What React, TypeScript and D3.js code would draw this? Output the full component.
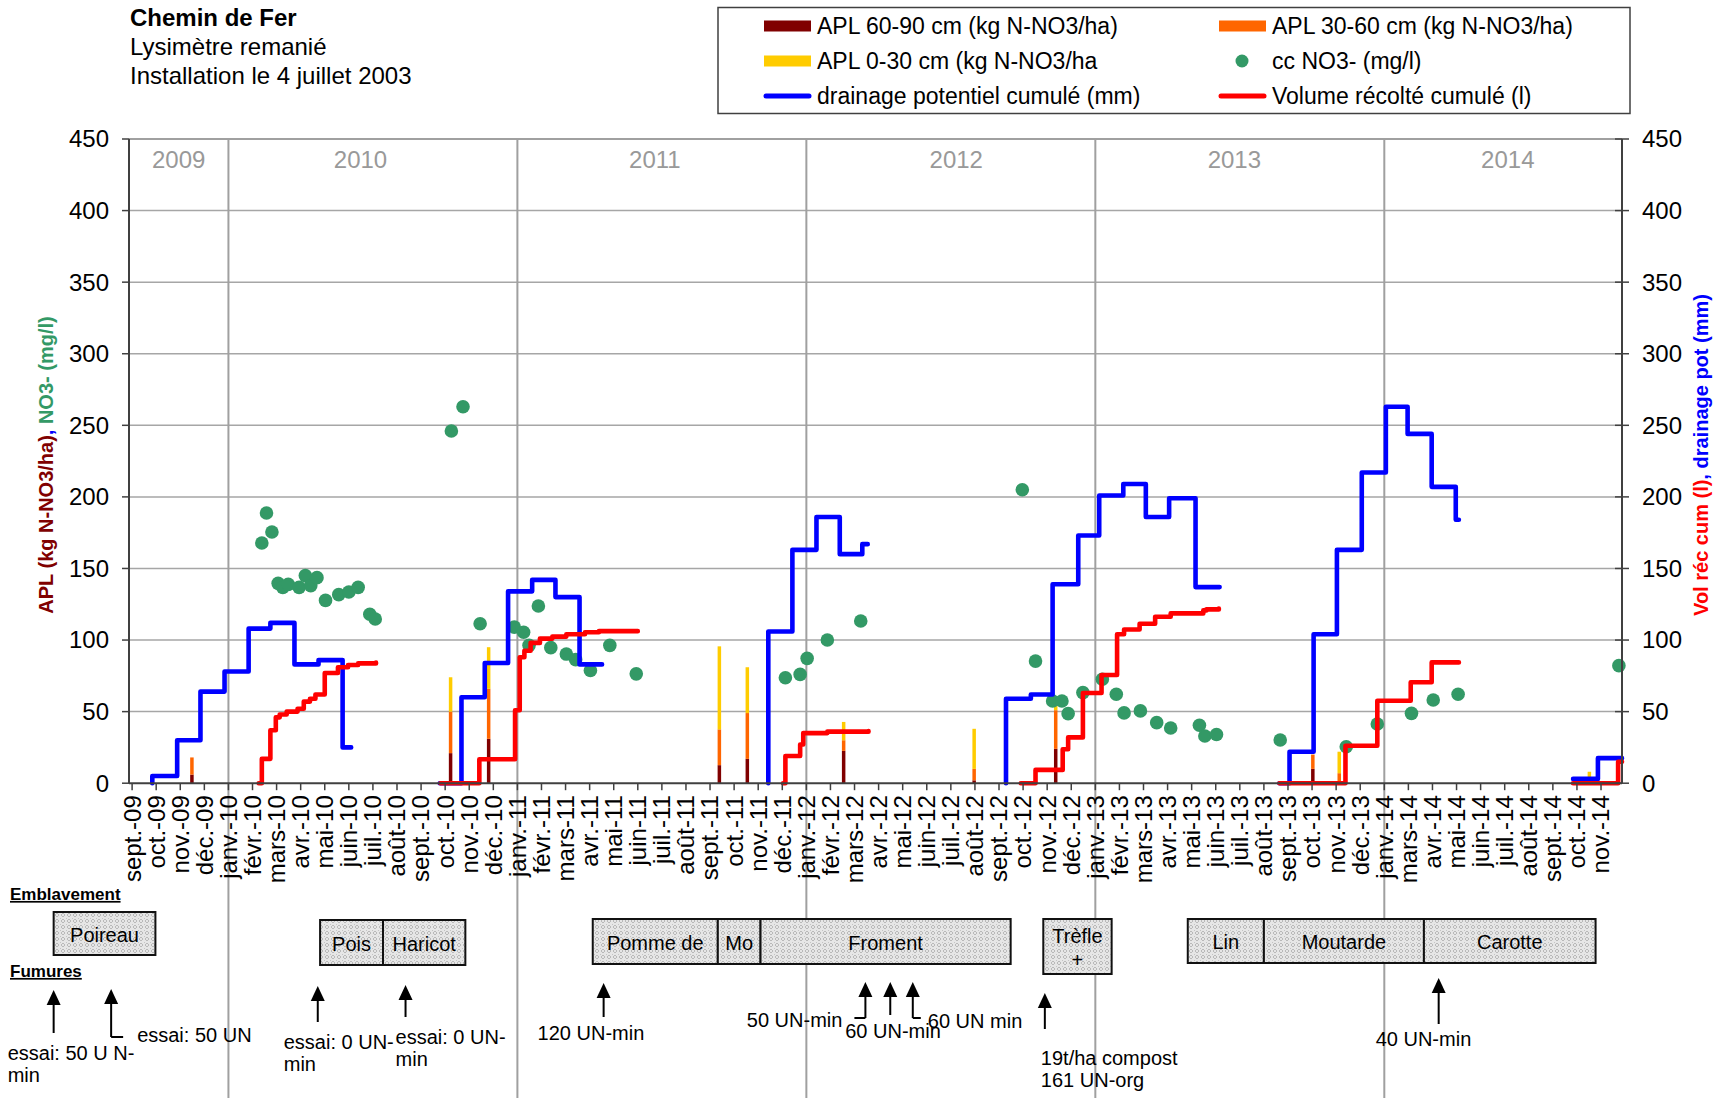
import React from 'react'
import * as d3 from 'd3'

// x axis labels, one every 31 days from 1 Sept 2009 (Excel date axis)
const monthLabels = [
  'sept.-09', 'oct.-09', 'nov.-09', 'déc.-09',
  'janv.-10', 'févr.-10', 'mars-10', 'avr.-10', 'mai-10', 'juin-10', 'juil.-10', 'août-10', 'sept.-10', 'oct.-10', 'nov.-10', 'déc.-10',
  'janv.-11', 'févr.-11', 'mars-11', 'avr.-11', 'mai-11', 'juin-11', 'juil.-11', 'août-11', 'sept.-11', 'oct.-11', 'nov.-11', 'déc.-11',
  'janv.-12', 'févr.-12', 'mars-12', 'avr.-12', 'mai-12', 'juin-12', 'juil.-12', 'août-12', 'sept.-12', 'oct.-12', 'nov.-12', 'déc.-12',
  'janv.-13', 'févr.-13', 'mars-13', 'avr.-13', 'mai-13', 'juin-13', 'juil.-13', 'août-13', 'sept.-13', 'oct.-13', 'nov.-13', 'déc.-13',
  'janv.-14', 'mars-14', 'avr.-14', 'mai-14', 'juin-14', 'juil.-14', 'août-14', 'sept.-14', 'oct.-14', 'nov.-14'
]
const yTicks = [0, 50, 100, 150, 200, 250, 300, 350, 400, 450]
const years = ['2009', '2010', '2011', '2012', '2013', '2014']
const yearLabelDates = ['2009-10-31', '2010-06-22', '2011-07-06', '2012-07-28', '2013-07-21', '2014-07-08']

// drainage potentiel cumulé (mm), one array per drainage season
const drainage1 = [['2009-09-27', 0], ['2009-09-27', 5], ['2009-10-29', 30], ['2009-11-28', 64], ['2009-12-29', 78], ['2010-01-29', 108], ['2010-02-26', 112], ['2010-03-29', 83], ['2010-04-29', 86], ['2010-05-30', 25], ['2010-06-10', 25]]
const drainage2 = [['2010-10-02', 0], ['2010-10-30', 60], ['2010-11-29', 84], ['2010-12-29', 134], ['2011-01-29', 142], ['2011-02-28', 130], ['2011-03-31', 83], ['2011-04-29', 83]]
const drainage3 = [['2011-11-29', 0], ['2011-11-29', 106], ['2011-12-30', 163], ['2012-01-30', 186], ['2012-02-29', 160], ['2012-03-29', 167], ['2012-04-05', 167]]
const drainage4 = [['2012-09-30', 0], ['2012-09-30', 59], ['2012-11-01', 62], ['2012-11-29', 139], ['2013-01-01', 173], ['2013-01-28', 201], ['2013-02-28', 209], ['2013-03-29', 186], ['2013-04-28', 199], ['2013-06-01', 137], ['2013-07-02', 137]]
const drainage5 = [['2013-09-17', 0], ['2013-09-30', 22], ['2013-10-31', 104], ['2013-11-30', 163], ['2014-01-01', 217], ['2014-02-01', 263], ['2014-03-01', 244], ['2014-04-01', 207], ['2014-05-02', 184], ['2014-05-06', 184]]
const drainage6 = [['2014-09-30', 3], ['2014-11-01', 17.5], ['2014-12-02', 17.5]]

// volume récolté cumulé (l)
const collected1 = [['2010-02-11', 0], ['2010-02-15', 17], ['2010-02-26', 37], ['2010-03-05', 46], ['2010-03-10', 48], ['2010-03-19', 50], ['2010-04-02', 52], ['2010-04-10', 57], ['2010-04-18', 59], ['2010-04-25', 62], ['2010-05-07', 77], ['2010-05-24', 81], ['2010-06-06', 82.6], ['2010-06-19', 83.7], ['2010-07-12', 84.2]]
const collected2 = [['2010-10-03', 0], ['2010-11-22', 16.7], ['2011-01-07', 51], ['2011-01-13', 88], ['2011-01-19', 92.5], ['2011-01-27', 98], ['2011-02-08', 101], ['2011-02-24', 102.4], ['2011-03-14', 104], ['2011-04-07', 105.4], ['2011-04-25', 106.2], ['2011-06-14', 106.2]]
const collected3 = [['2011-12-18', 0], ['2011-12-21', 19], ['2012-01-09', 27], ['2012-01-13', 35], ['2012-02-13', 36], ['2012-04-06', 36.5]]
const collected4 = [['2012-10-19', 0], ['2012-11-07', 9.3], ['2012-12-12', 23.7], ['2012-12-19', 32], ['2013-01-07', 63], ['2013-01-31', 75.6], ['2013-02-20', 104], ['2013-03-01', 107.4], ['2013-03-21', 111.4], ['2013-04-10', 116.3], ['2013-04-30', 118.6], ['2013-06-11', 120.7], ['2013-06-15', 121.4], ['2013-07-01', 122]]
const collected5 = [['2013-09-17', 0], ['2013-12-11', 26.2], ['2014-01-21', 57.6], ['2014-03-05', 70.5], ['2014-04-01', 84.4], ['2014-05-06', 84.5]]
const collected6 = [['2014-09-30', 0], ['2014-11-27', 15], ['2014-12-02', 15]]

// cc NO3- (mg/l)
const nitrate = [
  ['2010-02-15', 167.8], ['2010-02-21', 188.7], ['2010-02-28', 175.5], ['2010-03-08', 139.6], ['2010-03-14', 136.8], ['2010-03-21', 138.9],
  ['2010-04-04', 136.8], ['2010-04-12', 145], ['2010-04-19', 138], ['2010-04-27', 143.6], ['2010-05-08', 127.7], ['2010-05-25', 131.7],
  ['2010-06-07', 133.6], ['2010-06-19', 136.8], ['2010-07-04', 118], ['2010-07-11', 114.7],
  ['2010-10-17', 246], ['2010-11-01', 263], ['2010-11-23', 111.4], ['2011-01-06', 109], ['2011-01-18', 105.4], ['2011-01-25', 96.3],
  ['2011-02-06', 123.8], ['2011-02-22', 94.7], ['2011-03-14', 90.2], ['2011-03-26', 86.3], ['2011-04-14', 78.7], ['2011-05-09', 96.3], ['2011-06-12', 76.4],
  ['2011-12-21', 73.7], ['2012-01-09', 76], ['2012-01-18', 87.2], ['2012-02-13', 100], ['2012-03-27', 113.3],
  ['2012-10-21', 205], ['2012-11-07', 85.3], ['2012-11-29', 57.4], ['2012-12-11', 57.4], ['2012-12-19', 48.6], ['2013-01-07', 63.3],
  ['2013-02-01', 72.6], ['2013-02-19', 62.1], ['2013-03-01', 49.1], ['2013-03-22', 50.5], ['2013-04-12', 42.3], ['2013-04-30', 38.6],
  ['2013-06-06', 40.5], ['2013-06-13', 33], ['2013-06-28', 34],
  ['2013-09-18', 30.2], ['2013-12-12', 25.5], ['2014-01-21', 41.4], ['2014-03-06', 48.8], ['2014-04-03', 58.1], ['2014-05-05', 62.1],
  ['2014-11-28', 82.1]
]

// APL sampling dates and layers (kg N-NO3/ha)
const aplDates = ['2009-11-17', '2010-10-16', '2010-12-04', '2011-09-27', '2011-11-02', '2012-03-05', '2012-08-20', '2012-12-03', '2013-10-30', '2013-12-03', '2014-10-21']
const apl6090 = [6, 21, 31, 12.6, 17, 22.6, 2, 24, 10, 0, 0]
const apl3060 = [12, 29, 35, 25, 32, 7.4, 8, 27, 10, 7, 0]
const apl030 = [0, 24, 29, 58, 32, 12.8, 28, 6, 0, 15, 8]

// crops (Emblavement) and fertilisation (Fumures) under the chart
const crops = [
  { label: ['Poireau'], from: '2009-05-23', to: '2009-10-01', top: 912, bottom: 955 },
  { label: ['Pois'], from: '2010-05-01', to: '2010-07-21', top: 920, bottom: 965 },
  { label: ['Haricot'], from: '2010-07-21', to: '2010-11-04', top: 920, bottom: 965 },
  { label: ['Pomme de'], from: '2011-04-17', to: '2011-09-25', top: 919, bottom: 964 },
  { label: ['Mo'], from: '2011-09-25', to: '2011-11-19', top: 919, bottom: 964 },
  { label: ['Froment'], from: '2011-11-19', to: '2012-10-06', top: 919, bottom: 964 },
  { label: ['Trèfle', '+'], from: '2012-11-17', to: '2013-02-13', top: 919, bottom: 974 },
  { label: ['Lin'], from: '2013-05-22', to: '2013-08-28', top: 919, bottom: 963 },
  { label: ['Moutarde'], from: '2013-08-28', to: '2014-03-22', top: 919, bottom: 963 },
  { label: ['Carotte'], from: '2014-03-22', to: '2014-10-29', top: 919, bottom: 963 }
]
const fumures = [
  { date: '2009-05-23', top: 990, bottom: 1033, bend: 0, text: ['essai: 50 U N-', 'min'], dx: -46, ty: 1053, anchor: 'start' },
  { date: '2009-08-05', top: 989, bottom: 1037, bend: 12, text: ['essai: 50 UN'], dx: 26, ty: 1035, anchor: 'start' },
  { date: '2010-04-28', top: 986, bottom: 1022, bend: 0, text: ['essai: 0 UN-', 'min'], dx: -34, ty: 1042, anchor: 'start' },
  { date: '2010-08-19', top: 985, bottom: 1017, bend: 0, text: ['essai: 0 UN-', 'min'], dx: -10, ty: 1037, anchor: 'start' },
  { date: '2011-05-01', top: 983, bottom: 1017, bend: 0, text: ['120 UN-min'], dx: -66, ty: 1033, anchor: 'start' },
  { date: '2012-04-02', top: 982, bottom: 1018, bend: -11, text: ['50 UN-min'], dx: -23, ty: 1020, anchor: 'end' },
  { date: '2012-05-04', top: 982, bottom: 1015, bend: 0, text: ['60 UN-min'], dx: -45, ty: 1031, anchor: 'start' },
  { date: '2012-06-02', top: 982, bottom: 1018, bend: 8, text: ['60 UN min'], dx: 15, ty: 1021, anchor: 'start' },
  { date: '2012-11-19', top: 993, bottom: 1029, bend: 0, text: ['19t/ha compost', '161 UN-org'], dx: -4, ty: 1058, anchor: 'start' },
  { date: '2014-04-10', top: 978, bottom: 1024, bend: 0, text: ['40 UN-min'], dx: -63, ty: 1039, anchor: 'start' }
]

const parse = d3.timeParse('%Y-%m-%d')
const toPoints = (arr: any[]) => arr.map(d => [parse(d[0]) as Date, d[1] as number] as [Date, number])

const colors = {
  apl6090: '#800000',
  apl3060: '#FF6600',
  apl030: '#FFCC00',
  no3: '#339966',
  drainage: '#0000FF',
  collected: '#FF0000'
}

export default function App() {
  const width = 1715,
    height = 1098

  const x = d3
    .scaleTime()
    .domain([new Date(2009, 7, 28), new Date(2014, 11, 2)])
    .range([129, 1622])
  const y = d3.scaleLinear().domain([0, 450]).range([783.2, 139])
  const [x0, x1] = x.range()
  const [yBottom, yTop] = y.range()

  const tickDates = monthLabels.map((_, i) => d3.timeDay.offset(parse('2009-09-01') as Date, 31 * i))
  const janTicks = tickDates.filter((_, i) => monthLabels[i].startsWith('janv'))

  const line = d3
    .line<[Date, number]>()
    .x(d => x(d[0]))
    .y(d => y(d[1]))
    .curve(d3.curveStepAfter)

  const drainageSeasons = [drainage1, drainage2, drainage3, drainage4, drainage5, drainage6].map(toPoints)
  const collectedSeasons = [collected1, collected2, collected3, collected4, collected5, collected6].map(toPoints)
  const no3Points = toPoints(nitrate)

  // stacked APL columns: 60-90 at the bottom, then 30-60, then 0-30
  const aplRows = aplDates.map((d, i) => ({ date: parse(d) as Date, apl6090: apl6090[i], apl3060: apl3060[i], apl030: apl030[i] }))
  const stacked = d3.stack<any>().keys(['apl6090', 'apl3060', 'apl030'])(aplRows)
  const barW = 3.5

  const font = "'Liberation Sans', Arial, Helvetica, sans-serif"
  const grid = '#a6a6a6'
  const axis = '#404040'

  const legendItems = [
    { kind: 'rect', color: colors.apl6090, text: 'APL 60-90 cm (kg N-NO3/ha)', col: 0, row: 0 },
    { kind: 'rect', color: colors.apl3060, text: 'APL 30-60 cm (kg N-NO3/ha)', col: 1, row: 0 },
    { kind: 'rect', color: colors.apl030, text: 'APL 0-30 cm (kg N-NO3/ha', col: 0, row: 1 },
    { kind: 'dot', color: colors.no3, text: 'cc NO3- (mg/l)', col: 1, row: 1 },
    { kind: 'line', color: colors.drainage, text: 'drainage potentiel cumulé (mm)', col: 0, row: 2 },
    { kind: 'line', color: colors.collected, text: 'Volume récolté cumulé (l)', col: 1, row: 2 }
  ]
  const legendCols = [764, 1219]
  const legendRows = [26, 61, 96]

  return (
    <svg
      width={width}
      height={height}
      style={{ position: 'absolute', left: 0, top: 0, background: '#fff' }}
      fontFamily={font}
    >
      <defs>
        {/* small diamond lattice, like the Excel pattern fill of the crop boxes */}
        <pattern id="crop-fill" width="6" height="6" patternUnits="userSpaceOnUse">
          <rect width="6" height="6" fill="#e6e6e6" />
          <path d="M3,1 L5,3 L3,5 L1,3 Z" fill="none" stroke="#b4b4b4" strokeWidth={0.9} />
          <rect x="0" y="0" width="1" height="1" fill="#c4c4c4" />
        </pattern>
      </defs>

      {/* title */}
      <text x={130} y={26} fontSize={24} fontWeight="bold">Chemin de Fer</text>
      <text x={130} y={55} fontSize={24}>Lysimètre remanié</text>
      <text x={130} y={83.5} fontSize={24}>Installation le 4 juillet 2003</text>

      {/* legend */}
      <rect x={718} y={7.5} width={912} height={106} fill="#fff" stroke={axis} strokeWidth={1.5} />
      {legendItems.map((d, i) => {
        const lx = legendCols[d.col],
          ly = legendRows[d.row]
        return (
          <g key={i}>
            {d.kind === 'rect' && <rect x={lx} y={ly - 5.5} width={47} height={11} fill={d.color} />}
            {d.kind === 'line' && (
              <line x1={lx + 2} x2={lx + 45} y1={ly} y2={ly} stroke={d.color} strokeWidth={5} strokeLinecap="round" />
            )}
            {d.kind === 'dot' && <circle cx={lx + 23} cy={ly} r={6.5} fill={d.color} />}
            <text x={lx + 53} y={ly} dy="0.35em" fontSize={23}>{d.text}</text>
          </g>
        )
      })}

      {/* horizontal gridlines */}
      {yTicks.slice(1).map(t => (
        <line key={t} x1={x0} x2={x1} y1={y(t)} y2={y(t)} stroke={t === 450 ? '#808080' : grid} strokeWidth={1.5} />
      ))}

      {/* year separators, run down through the crop section */}
      {janTicks.map((d, i) => (
        <line key={i} x1={x(d)} x2={x(d)} y1={yTop} y2={height} stroke="#a0a0a0" strokeWidth={2} />
      ))}
      {years.map((yr, i) => (
        <text key={yr} x={x(parse(yearLabelDates[i]) as Date)} y={160} dy="0.35em" fontSize={24} fill="#999" textAnchor="middle">
          {yr}
        </text>
      ))}

      {/* APL columns */}
      {stacked.map(layer => (
        <g key={layer.key} fill={(colors as any)[layer.key]}>
          {layer.map((s, i) => (
            <rect
              key={i}
              x={x(s.data.date) - barW / 2}
              y={y(s[1])}
              width={barW}
              height={Math.max(0, y(s[0]) - y(s[1]))}
            />
          ))}
        </g>
      ))}

      {/* NO3- concentration */}
      {no3Points.map((d, i) => (
        <circle key={i} cx={x(d[0])} cy={y(d[1])} r={6.8} fill={colors.no3} />
      ))}

      {/* cumulative drainage and collected volume */}
      {drainageSeasons.map((s, i) => (
        <path key={'d' + i} d={line(s) || ''} fill="none" stroke={colors.drainage} strokeWidth={4.6} strokeLinejoin="round" strokeLinecap="round" />
      ))}
      {collectedSeasons.map((s, i) => (
        <path key={'c' + i} d={line(s) || ''} fill="none" stroke={colors.collected} strokeWidth={4.6} strokeLinejoin="round" strokeLinecap="round" />
      ))}

      {/* axes */}
      <line x1={x0} x2={x0} y1={yTop} y2={yBottom} stroke={axis} strokeWidth={2} />
      <line x1={x1} x2={x1} y1={yTop} y2={yBottom} stroke={axis} strokeWidth={2} />
      <line x1={x0} x2={x1} y1={yBottom} y2={yBottom} stroke={axis} strokeWidth={2} />
      {yTicks.map(t => (
        <g key={t}>
          <line x1={x0 - 7} x2={x0} y1={y(t)} y2={y(t)} stroke={axis} strokeWidth={1.5} />
          <text x={x0 - 20} y={y(t)} dy="0.35em" fontSize={24} textAnchor="end">{t}</text>
          <line x1={x1 - 7} x2={x1 + 7} y1={y(t)} y2={y(t)} stroke={axis} strokeWidth={1.5} />
          <text x={x1 + 20} y={y(t)} dy="0.35em" fontSize={24}>{t}</text>
        </g>
      ))}
      {tickDates.map((d, i) => (
        <g key={i}>
          <line x1={x(d)} x2={x(d)} y1={yBottom} y2={yBottom + 7} stroke={axis} strokeWidth={1.5} />
          <text
            transform={`translate(${x(d)},${yBottom + 12}) rotate(-90)`}
            dy="0.35em"
            fontSize={24}
            textAnchor="end"
          >
            {monthLabels[i]}
          </text>
        </g>
      ))}

      {/* axis titles */}
      <text transform="translate(46,465) rotate(-90)" dy="0.35em" fontSize={20} fontWeight="bold" textAnchor="middle">
        <tspan fill="#800000">APL (kg N-NO3/ha)</tspan>
        <tspan fill="#0000FF">,</tspan>
        <tspan fill="#339966"> NO3- (mg/l)</tspan>
      </text>
      <text transform="translate(1701,455) rotate(-90)" dy="0.35em" fontSize={20} fontWeight="bold" textAnchor="middle">
        <tspan fill="#FF0000">Vol réc cum (l)</tspan>
        <tspan fill="#0000FF">, drainage pot (mm)</tspan>
      </text>

      {/* crop section */}
      <text x={10} y={894} dy="0.35em" fontSize={17} fontWeight="bold" textDecoration="underline">Emblavement</text>
      <text x={10} y={971} dy="0.35em" fontSize={17} fontWeight="bold" textDecoration="underline">Fumures</text>
      {crops.map((c, i) => {
        const cx0 = x(parse(c.from) as Date),
          cx1 = x(parse(c.to) as Date)
        const mid = (c.top + c.bottom) / 2
        return (
          <g key={i}>
            <rect x={cx0} y={c.top} width={cx1 - cx0} height={c.bottom - c.top} fill="url(#crop-fill)" stroke="#111" strokeWidth={2} />
            {c.label.map((t, j) => (
              <text
                key={j}
                x={(cx0 + cx1) / 2}
                y={c.label.length > 1 ? c.top + 17 + j * 24 : mid + 1}
                dy="0.35em"
                fontSize={20}
                textAnchor="middle"
              >
                {t}
              </text>
            ))}
          </g>
        )
      })}
      {fumures.map((f, i) => {
        const ax = x(parse(f.date) as Date)
        return (
          <g key={i}>
            <line x1={ax} x2={ax} y1={f.top + 12} y2={f.bottom} stroke="#000" strokeWidth={2} />
            <path d={`M${ax},${f.top} L${ax - 7},${f.top + 15} L${ax + 7},${f.top + 15} Z`} fill="#000" />
            {f.bend !== 0 && <line x1={ax} x2={ax + f.bend} y1={f.bottom} y2={f.bottom} stroke="#000" strokeWidth={2} />}
            {f.text.map((t, j) => (
              <text key={j} x={ax + f.dx} y={f.ty + j * 22} dy="0.35em" fontSize={20} textAnchor={f.anchor as any}>
                {t}
              </text>
            ))}
          </g>
        )
      })}
    </svg>
  )
}
